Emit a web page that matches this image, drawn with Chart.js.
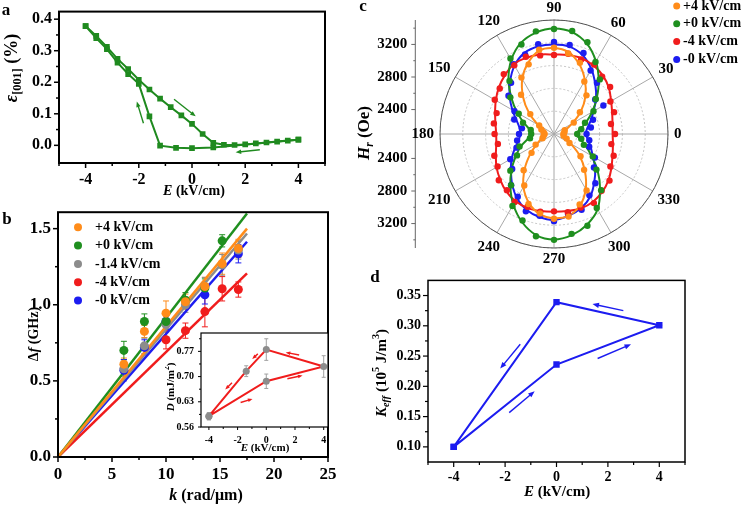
<!DOCTYPE html>
<html>
<head>
<meta charset="utf-8">
<script src="https://cdn.jsdelivr.net/npm/chart.js@4.4.1/dist/chart.umd.min.js"></script>
<style>
  body { margin: 0; background: #fff; width: 750px; height: 506px; position: relative; overflow: hidden; }
  canvas { position: absolute; }
</style>
</head>
<body>
<canvas id="pa" width="340" height="200" style="left:0;top:0"></canvas>
<canvas id="pb" width="340" height="306" style="left:0;top:200px"></canvas>
<canvas id="pi" width="170" height="132" style="left:165px;top:325px"></canvas>
<canvas id="pc" width="400" height="275" style="left:350px;top:0"></canvas>
<canvas id="pd" width="390" height="236" style="left:360px;top:270px"></canvas>
<script>
const SERIF = 'Liberation Serif';

// ---------- panel a : strain loop ----------
const aEfwd = [-4, -3.6, -3.2, -2.8, -2.4, -2, -1.6, -1.2, -0.8, -0.4, 0, 0.4, 0.8, 1.2, 1.6, 2, 2.4, 2.8, 3.2, 3.6, 4];
const aSfwd = [0.378, 0.347, 0.312, 0.274, 0.242, 0.208, 0.177, 0.148, 0.121, 0.095, 0.068, 0.036, 0.008, 0.002, 0.001, 0.003, 0.006, 0.009, 0.012, 0.015, 0.018];
const aEret = [4, 0.8, 0, -0.6, -1.2, -1.6, -2, -2.4, -2.8, -3.2, -3.6, -4];
const aSret = [0.018, -0.007, -0.009, -0.008, -0.001, 0.092, 0.195, 0.226, 0.262, 0.305, 0.340, 0.378];
const aArrows = [[-0.675, 0.146, 0.14, 0.092], [-1.825, 0.07, -2.075, 0.139], [2.55, -0.014, 1.64, -0.022]];
const aXticks = [-5, -4, -3, -2, -1, 0, 1, 2, 3, 4, 5];
const aXlabels = [-4, -2, 0, 2, 4];
const aYticks = [0, 0.05, 0.1, 0.15, 0.2, 0.25, 0.3, 0.35, 0.4];
const aYlabels = [0, 0.1, 0.2, 0.3, 0.4];
const aColor = '#1f8a1f';

// ---------- panel b : dispersion ----------
const bNames = ['+4 kV/cm', '+0 kV/cm', '-1.4 kV/cm', '-4 kV/cm', '-0 kV/cm'];
const bColors = ['#ff8c1a', '#1f8f1f', '#8c8c8c', '#f01c1c', '#1c1cf0'];
const bK = [6.1, 8.0, 10.0, 11.8, 13.6, 15.2, 16.7];
const bOrange = [0.61, 0.825, 0.945, 1.02, 1.12, 1.27, 1.37];
const bOrangeErr = [0.04, 0.04, 0.08, 0.05, 0.06, 0.07, 0.06];
const bGreen = [0.70, 0.89, 0.89, 1.03, 1.11, 1.42, null];
const bGreenErr = [0.06, 0.05, 0.05, 0.05, 0.06, 0.04, null];
const bGray = [0.58, 0.73, 0.87, 1.00, 1.12, 1.26, 1.36];
const bGrayErr = [0.05, 0.05, 0.05, 0.05, 0.06, 0.07, 0.06];
const bRed = [null, null, 0.77, 0.83, 0.955, 1.105, 1.10];
const bRedErr = [null, null, 0.06, 0.05, 0.10, 0.08, 0.05];
const bBlue = [0.57, 0.72, 0.89, null, 1.065, null, 1.335];
const bBlueErr = [0.07, 0.05, 0.05, null, 0.06, null, 0.06];
const bFitK = [0, 17.5];
const bFitEnd = [1.50, 1.60, 1.468, 1.206, 1.414];
const bXticks = [0, 2.5, 5, 7.5, 10, 12.5, 15, 17.5, 20, 22.5, 25];
const bXlabels = [0, 5, 10, 15, 20, 25];
const bYticks = [0, 0.25, 0.5, 0.75, 1, 1.25, 1.5];
const bYlabels = [0, 0.5, 1, 1.5];

// ---------- inset : D vs E ----------
const iE = [-4, 0, 4, 0, -1.4, -4];
const iD = [0.590, 0.687, 0.728, 0.775, 0.715, 0.590];
const iErr = [0.01, 0.02, 0.03, 0.03, 0.015, 0.01];
const iArrows = [[2.29, 0.760, 1.35, 0.767], [-0.59, 0.763, -0.98, 0.749], [-2.39, 0.683, -2.86, 0.664],
                 [-1.79, 0.628, -0.96, 0.638], [1.47, 0.694, 2.53, 0.703]];
const iXticks = [-4, -3, -2, -1, 0, 1, 2, 3, 4];
const iXlabels = [-4, -2, 0, 2, 4];
const iYticks = [0.56, 0.595, 0.63, 0.665, 0.70, 0.735, 0.77, 0.805];
const iYlabels = [0.56, 0.63, 0.70, 0.77];

// ---------- panel c : polar Hr(angle) ----------
const cAngles = [0, 10, 20, 30, 40, 50, 60, 70, 80, 90, 100, 110, 120, 130, 140, 150, 160, 170,
                 180, 190, 200, 210, 220, 230, 240, 250, 260, 270, 280, 290, 300, 310, 320, 330, 340, 350];
const cNames = ['+4 kV/cm', '+0 kV/cm', '-4 kV/cm', '-0 kV/cm'];
const cColors = ['#ff8c1a', '#1f8f1f', '#f01c1c', '#1c1cf0'];
const cOrangeFit = [2200, 2215, 2255, 2360, 2530, 2700, 2860, 3010, 3120, 3155, 3140, 3030, 2880, 2690, 2500, 2330, 2250, 2220,
                    2200, 2215, 2260, 2340, 2480, 2660, 2850, 3000, 3100, 3135, 3120, 3035, 2880, 2690, 2510, 2340, 2250, 2210];
const cOrangePts = [2215, 2230, 2240, 2380, 2515, 2720, 2845, 3030, 3105, 3160, 3150, 3010, 2900, 2730, 2480, 2310, 2265, 2230,
                    2215, 2230, 2250, 2360, 2460, 2680, 2830, 3015, 3090, 3140, 3130, 3020, 2900, 2675, 2525, 2320, 2265, 2220];
const cGreenFit = [2370, 2425, 2520, 2640, 2785, 2955, 3130, 3280, 3370, 3395, 3365, 3290, 3150, 2970, 2780, 2620, 2490, 2400,
                   2360, 2420, 2530, 2640, 2780, 2935, 3100, 3250, 3360, 3395, 3360, 3285, 3170, 2980, 2800, 2630, 2510, 2420];
const cGreenPts = [2385, 2440, 2505, 2660, 2770, 2975, 3120, 3300, 3385, 3390, 3380, 3270, 3170, 2950, 2800, 2600, 2505, 2390,
                   2380, 2400, 2550, 2625, 2800, 2920, 3120, 3230, 3375, 3400, 3345, 3300, 3150, 3000, 2780, 2650, 2490, 2440];
const cRedFit = [2820, 2830, 2860, 2910, 2980, 3035, 3070, 3090, 3085, 3075, 3090, 3095, 3090, 3040, 2985, 2925, 2870, 2830,
                 2810, 2820, 2860, 2915, 2965, 3015, 3050, 3065, 3060, 3055, 3060, 3070, 3060, 3025, 2975, 2915, 2865, 2835];
const cRedPts = [2850, 2810, 2885, 2900, 3000, 3020, 3085, 3075, 3100, 3070, 3080, 3110, 3075, 3060, 2970, 2940, 2850, 2850,
                 2830, 2800, 2880, 2900, 2985, 3000, 3065, 3050, 3070, 3050, 3075, 3060, 3080, 3010, 2990, 2900, 2880, 2815];
const cBlueFit = [2490, 2515, 2580, 2660, 2775, 2890, 3020, 3130, 3190, 3200, 3195, 3160, 3070, 2940, 2810, 2690, 2590, 2530,
                  2515, 2540, 2610, 2700, 2790, 2900, 3010, 3090, 3135, 3155, 3120, 3070, 2990, 2870, 2760, 2650, 2580, 2525];
const cBluePts = [2500, 2560, 2610, 2800, 2760, 2920, 3000, 3160, 3210, 3230, 3220, 3140, 3090, 2920, 2830, 2660, 2620, 2500,
                  2530, 2560, 2590, 2720, 2770, 2920, 2990, 3110, 3120, 3170, 3100, 3090, 2970, 2890, 2740, 2680, 2560, 2540];
const cRings = [2100, 2380, 2660, 2940, 3220, 3500];
const cLabelAngles = [0, 30, 60, 90, 120, 150, 180, 210, 240, 270, 300, 330];
const cAxisTicks = [2600, 3000, 3400, 2400, 2800, 3200];
const cAxisLabels = [2400, 2800, 3200];

// ---------- panel d : Keff loop ----------
const dE = [-4, 0, 4, 0, -4];
const dK = [0.100, 0.236, 0.301, 0.339, 0.100];
const dArrows = [[2.6, 0.325, 1.4, 0.336], [-1.41, 0.2695, -2.19, 0.2293], [1.6, 0.246, 2.9, 0.2695], [-1.84, 0.1566, -0.85, 0.192]];
const dXticks = [-5, -4, -3, -2, -1, 0, 1, 2, 3, 4, 5];
const dXlabels = [-4, -2, 0, 2, 4];
const dYticks = [0.1, 0.125, 0.15, 0.175, 0.2, 0.225, 0.25, 0.275, 0.3, 0.325, 0.35];
const dYlabels = [0.1, 0.15, 0.2, 0.25, 0.3, 0.35];
const dColor = '#1c1cf0';

// ---------- helpers ----------
const zip = (xs, ys) => xs.map((x, i) => ({x, y: ys[i]})).filter(p => p.y !== null);

function rich(ctx, runs, x, y, size, rot) {
  ctx.save();
  ctx.translate(x, y);
  if (rot) ctx.rotate(rot);
  ctx.fillStyle = '#000';
  ctx.textBaseline = 'middle';
  ctx.textAlign = 'left';
  const parts = runs.map(([t, s]) => {
    const small = s.includes('b') || s.includes('p');
    const font = (s.includes('i') ? 'italic ' : '') + 'bold ' + (small ? size * 0.68 : size) + 'px "' + SERIF + '"';
    ctx.font = font;
    return {t, font, w: ctx.measureText(t).width, dy: s.includes('b') ? size * 0.3 : s.includes('p') ? -size * 0.38 : 0};
  });
  let cx = -parts.reduce((a, p) => a + p.w, 0) / 2;
  parts.forEach(p => { ctx.font = p.font; ctx.fillText(p.t, cx, p.dy); cx += p.w; });
  ctx.restore();
}

function arrow(ctx, x1, y1, x2, y2, color, h) {
  const a = Math.atan2(y2 - y1, x2 - x1);
  ctx.strokeStyle = color; ctx.fillStyle = color; ctx.lineWidth = 1.4;
  ctx.beginPath(); ctx.moveTo(x1, y1); ctx.lineTo(x2 - Math.cos(a) * h * 0.5, y2 - Math.sin(a) * h * 0.5); ctx.stroke();
  ctx.beginPath(); ctx.moveTo(x2, y2);
  ctx.lineTo(x2 - h * Math.cos(a - 0.38), y2 - h * Math.sin(a - 0.38));
  ctx.lineTo(x2 - h * Math.cos(a + 0.38), y2 - h * Math.sin(a + 0.38));
  ctx.closePath(); ctx.fill();
}

function legend(ctx, L) {
  ctx.save();
  ctx.textBaseline = 'middle'; ctx.textAlign = 'left';
  ctx.font = 'bold ' + L.size + 'px "' + SERIF + '"';
  L.items.forEach(([color, label], i) => {
    const y = L.y + i * L.dy;
    ctx.fillStyle = color;
    ctx.beginPath(); ctx.arc(L.x, y, L.r, 0, 2 * Math.PI); ctx.fill();
    ctx.fillStyle = '#000';
    ctx.fillText(label, L.tx, y);
  });
  ctx.restore();
}

function linAxis(min, max, ticks, labels, dec, size, fit, horizontal) {
  return {
    type: 'linear', position: horizontal ? 'bottom' : 'left', min, max,
    afterBuildTicks: s => { s.ticks = ticks.map(v => ({value: v})); },
    afterFit: s => { if (horizontal) s.height = fit; else s.width = fit; },
    grid: {display: false, drawTicks: true, tickLength: 5},
    border: {display: false},
    ticks: {
      color: '#000', padding: 2, autoSkip: false, maxRotation: 0,
      font: {family: SERIF, size, weight: 'bold'},
      callback: v => labels.some(m => Math.abs(m - v) < 1e-9) ? v.toFixed(dec) : ''
    }
  };
}

function makeDeco(cfg) {
  return {
    id: 'deco',
    beforeDraw(chart) {
      if (!cfg.bg) return;
      const a = chart.chartArea, ctx = chart.ctx;
      ctx.save(); ctx.fillStyle = cfg.bg;
      ctx.fillRect(a.left, a.top, a.right - a.left, a.bottom - a.top);
      ctx.restore();
    },
    beforeDatasetsDraw(chart) {
      const {ctx, scales: {x, y}} = chart;
      ctx.save();
      (cfg.errs || []).forEach(s => {
        ctx.strokeStyle = s.color; ctx.lineWidth = 1;
        s.xs.forEach((xv, i) => {
          if (s.ys[i] === null) return;
          const px = x.getPixelForValue(xv);
          const p1 = y.getPixelForValue(s.ys[i] - s.es[i]), p2 = y.getPixelForValue(s.ys[i] + s.es[i]);
          ctx.beginPath();
          ctx.moveTo(px, p1); ctx.lineTo(px, p2);
          ctx.moveTo(px - s.cap, p1); ctx.lineTo(px + s.cap, p1);
          ctx.moveTo(px - s.cap, p2); ctx.lineTo(px + s.cap, p2);
          ctx.stroke();
        });
      });
      ctx.restore();
    },
    afterDraw(chart) {
      const {ctx, chartArea: a, scales: {x, y}} = chart;
      ctx.save();
      ctx.strokeStyle = '#000';
      ctx.lineWidth = cfg.frameW;
      ctx.strokeRect(a.left, a.top, a.right - a.left, a.bottom - a.top);
      ctx.lineWidth = cfg.tickW;
      x.ticks.forEach(t => {
        const p = x.getPixelForValue(t.value), L = t.label === '' ? cfg.minor : cfg.major;
        ctx.beginPath(); ctx.moveTo(p, a.bottom); ctx.lineTo(p, a.bottom + L); ctx.stroke();
      });
      y.ticks.forEach(t => {
        const p = y.getPixelForValue(t.value), L = t.label === '' ? cfg.minor : cfg.major;
        ctx.beginPath(); ctx.moveTo(a.left, p); ctx.lineTo(a.left - L, p); ctx.stroke();
      });
      if (cfg.arrows) {
        cfg.arrows.list.forEach(([x1, y1, x2, y2]) => arrow(ctx,
          x.getPixelForValue(x1), y.getPixelForValue(y1), x.getPixelForValue(x2), y.getPixelForValue(y2),
          cfg.arrows.color, cfg.arrows.head));
      }
      if (cfg.legend) legend(ctx, cfg.legend);
      (cfg.texts || []).forEach(t => rich(ctx, t.runs, t.x, t.y, t.size, t.rot));
      ctx.restore();
    }
  };
}

const base = (pad) => ({
  responsive: false, animation: false, events: [],
  layout: {padding: pad},
  plugins: {legend: {display: false}, tooltip: {enabled: false}}
});

// ---------- chart a ----------
new Chart(document.getElementById('pa'), {
  type: 'scatter',
  data: {
    datasets: [
      {data: zip(aEfwd, aSfwd), showLine: true, borderColor: aColor, backgroundColor: aColor, borderWidth: 2,
       pointStyle: 'rect', pointRadius: 4, pointBorderWidth: 0},
      {data: zip(aEret, aSret), showLine: true, borderColor: aColor, backgroundColor: aColor, borderWidth: 2,
       pointStyle: 'rect', pointRadius: 4, pointBorderWidth: 0}
    ]
  },
  options: Object.assign(base({top: 1, right: 15, left: 0, bottom: 0}), {
    scales: {
      x: linAxis(-5, 5, aXticks, aXlabels, 0, 16, 37, true),
      y: linAxis(-0.056, 0.424, aYticks, aYlabels, 1, 16, 59, false)
    }
  }),
  plugins: [makeDeco({
    frameW: 2, tickW: 1.5, major: 5, minor: 3,
    arrows: {list: aArrows, color: aColor, head: 6},
    texts: [
      {runs: [['a', '']], x: 6, y: 11, size: 17},
      {runs: [['E', 'i'], [' (kV/cm)', '']], x: 194, y: 191, size: 14},
      {runs: [['ε', 'i'], ['[001]', 'b'], [' (%)', '']], x: 12, y: 68, size: 18, rot: -Math.PI / 2}
    ]
  })]
});

// ---------- chart b ----------
const bSeries = [bOrange, bGreen, bGray, bRed, bBlue];
const bErrs = [bOrangeErr, bGreenErr, bGrayErr, bRedErr, bBlueErr];
new Chart(document.getElementById('pb'), {
  type: 'scatter',
  data: {
    datasets: [
      ...bSeries.map((s, i) => ({data: zip(bK, s), backgroundColor: bColors[i], pointRadius: 4.5, pointBorderWidth: 0, order: 0})),
      ...bFitEnd.map((e, i) => ({data: zip(bFitK, [0, e]), showLine: true, borderColor: bColors[i], borderWidth: 2.5,
                                   pointRadius: 0, order: 1}))
    ]
  },
  options: Object.assign(base({top: 8, right: 12, left: 0, bottom: 0}), {
    scales: {
      x: linAxis(0, 25, bXticks, bXlabels, 0, 17, 49, true),
      y: linAxis(0, 1.608, bYticks, bYlabels, 1, 17, 58, false)
    }
  }),
  plugins: [makeDeco({
    frameW: 2, tickW: 1.5, major: 5, minor: 3,
    errs: bSeries.map((s, i) => ({xs: bK, ys: s, es: bErrs[i], color: bColors[i], cap: 3})),
    legend: {x: 78, y: 27.3, dy: 18.3, tx: 95, size: 14, r: 4, items: bNames.map((n, i) => [bColors[i], n])},
    texts: [
      {runs: [['b', '']], x: 7, y: 20, size: 17},
      {runs: [['k', 'i'], [' (rad/μm)', '']], x: 206, y: 296, size: 16},
      {runs: [['Δ', ''], ['f', 'i'], [' (GHz)', '']], x: 34, y: 134, size: 14, rot: -Math.PI / 2}
    ]
  })]
});

// ---------- inset ----------
new Chart(document.getElementById('pi'), {
  type: 'scatter',
  data: {
    datasets: [{data: zip(iE, iD), showLine: true, borderColor: '#f01c1c', borderWidth: 2,
                backgroundColor: '#8c8c8c', pointBorderColor: '#8c8c8c', pointRadius: 3.5, pointBorderWidth: 0}]
  },
  options: Object.assign(base({top: 7, right: 7, left: 0, bottom: 0}), {
    scales: {
      x: linAxis(-4.55, 4.3, iXticks, iXlabels, 0, 10, 30, true),
      y: linAxis(0.56, 0.821, iYticks, iYlabels, 2, 10, 36, false)
    }
  }),
  plugins: [makeDeco({
    bg: '#fff', frameW: 1.2, tickW: 1, major: 3, minor: 2,
    errs: [{xs: iE, ys: iD, es: iErr, color: '#a0a0a0', cap: 2}],
    arrows: {list: iArrows, color: '#f01c1c', head: 5},
    texts: [
      {runs: [['E', 'i'], [' (kV/cm)', '']], x: 100, y: 123, size: 11},
      {runs: [['D', 'i'], [' (mJ/m', ''], ['2', 'p'], [')', '']], x: 6, y: 62, size: 11, rot: -Math.PI / 2}
    ]
  })]
});

// ---------- chart c (polar) ----------
// radar goes clockwise from its start angle, the reference counts angles anticlockwise from 0 at the right
const cOrder = cAngles.map((_, i) => (cAngles.length - i) % cAngles.length);
const reorder = arr => cOrder.map(k => arr[k]);
const cFits = [cOrangeFit, cGreenFit, cRedFit, cBlueFit];
const cPts = [cOrangePts, cGreenPts, cRedPts, cBluePts];

const polarDeco = {
  id: 'polarDeco',
  beforeDatasetsDraw(chart) {
    const s = chart.scales.r, ctx = chart.ctx;
    ctx.save();
    ctx.strokeStyle = '#555'; ctx.lineWidth = 1;
    ctx.beginPath(); ctx.arc(s.xCenter, s.yCenter, s.drawingArea, 0, 2 * Math.PI); ctx.stroke();
    ctx.restore();
  },
  afterDraw(chart) {
    const s = chart.scales.r, ctx = chart.ctx, R = s.drawingArea;
    const ax = 65.3;
    ctx.save();
    ctx.strokeStyle = '#666'; ctx.lineWidth = 1;
    ctx.beginPath(); ctx.moveTo(ax, s.yCenter - R); ctx.lineTo(ax, s.yCenter + R); ctx.stroke();
    ctx.fillStyle = '#000';
    ctx.font = 'bold 15px "' + SERIF + '"';
    ctx.textAlign = 'right'; ctx.textBaseline = 'middle';
    cAxisTicks.forEach(v => {
      const d = s.getDistanceFromCenterForValue(v), major = cAxisLabels.includes(v);
      [-1, 1].forEach(sg => {
        const yy = s.yCenter + sg * d;
        ctx.beginPath(); ctx.moveTo(ax - (major ? 4 : 2), yy); ctx.lineTo(ax, yy); ctx.stroke();
        if (major) ctx.fillText(String(v), ax - 8, yy);
      });
    });
    ctx.textAlign = 'center';
    cLabelAngles.forEach(th => {
      const t = String(th), w = ctx.measureText(t).width;
      const rad = th * Math.PI / 180, c = Math.cos(rad), sn = Math.sin(rad);
      const ext = Math.abs(c) * w / 2 + Math.abs(sn) * 5.5;
      const d = R + 6 + ext;
      ctx.fillText(t, s.xCenter + d * c, s.yCenter - d * sn);
    });
    legend(ctx, {x: 326.7, y: 6, dy: 17.8, tx: 333, size: 14, r: 3.5, items: cNames.map((n, i) => [cColors[i], n])});
    rich(ctx, [['c', '']], 13, 7, 17);
    rich(ctx, [['H', 'i'], ['r', 'ib'], [' (Oe)', '']], 15, 133, 17, -Math.PI / 2);
    ctx.restore();
  }
};

new Chart(document.getElementById('pc'), {
  type: 'radar',
  data: {
    labels: reorder(cAngles),
    datasets: [
      ...cPts.map((p, i) => ({data: reorder(p), showLine: false, fill: false, pointRadius: 3.2,
                               pointBackgroundColor: cColors[i], pointBorderWidth: 0, borderColor: cColors[i]})),
      ...cFits.map((f, i) => ({data: reorder(f), fill: false, borderColor: cColors[i], borderWidth: 2,
                               pointRadius: 0, tension: 0.35}))
    ]
  },
  options: Object.assign(base({left: 90, right: 81, top: 20, bottom: 26}), {
    scales: {
      r: {
        min: 2100, max: 3500, startAngle: 90,
        afterBuildTicks: s => { s.ticks = cRings.map(v => ({value: v})); },
        ticks: {display: false},
        grid: {circular: true, color: '#c4c4c4', lineWidth: 1},
        border: {dash: [2, 2]},
        angleLines: {color: c => (c.index % 3 === 0 ? '#a8a8a8' : 'transparent'), lineWidth: 1},
        pointLabels: {display: false}
      }
    }
  }),
  plugins: [polarDeco]
});

// ---------- chart d ----------
new Chart(document.getElementById('pd'), {
  type: 'scatter',
  data: {
    datasets: [{data: zip(dE, dK), showLine: true, borderColor: dColor, backgroundColor: dColor, borderWidth: 2,
                pointStyle: 'rect', pointRadius: 4.5, pointBorderWidth: 0}]
  },
  options: Object.assign(base({top: 8, right: 65, left: 0, bottom: 0}), {
    scales: {
      x: linAxis(-5, 5, dXticks, dXlabels, 0, 14, 44, true),
      y: linAxis(0.075, 0.375, dYticks, dYlabels, 2, 14, 68, false)
    }
  }),
  plugins: [makeDeco({
    frameW: 1.5, tickW: 1.2, major: 5, minor: 3,
    arrows: {list: dArrows, color: dColor, head: 7},
    texts: [
      {runs: [['d', '']], x: 15, y: 8, size: 17},
      {runs: [['E', 'i'], [' (kV/cm)', '']], x: 197, y: 222, size: 15},
      {runs: [['K', 'i'], ['eff', 'ib'], [' (10', ''], ['5', 'p'], [' J/m', ''], ['3', 'p'], [')', '']],
       x: 22, y: 103, size: 15, rot: -Math.PI / 2}
    ]
  })]
});
</script>
</body>
</html>
